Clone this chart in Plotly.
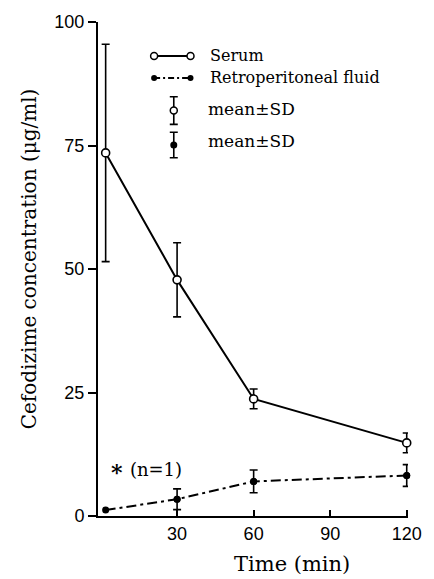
import plotly.graph_objects as go

# ---- data ----
time = [2, 30, 60, 120]
serum_mean = [73.5, 47.8, 23.7, 14.8]
serum_sd = [22.0, 7.5, 2.0, 2.0]
retro_mean = [1.2, 3.4, 7.0, 8.2]
retro_sd_time = [30, 60, 120]
retro_sd_mean = [3.4, 7.0, 8.2]
retro_sd = [2.1, 2.3, 2.2]
x_ticks = [30, 60, 90, 120]
y_ticks = [0, 25, 50, 75, 100]

SERIF = "DejaVu Serif"
SANS = "Liberation Sans"
BLACK = "black"

fig = go.Figure()

# serum
fig.add_trace(go.Scatter(
    x=time, y=serum_mean, mode="lines+markers",
    line=dict(color=BLACK, width=2),
    marker=dict(symbol="circle", size=8, color="white", line=dict(color=BLACK, width=1.6)),
    error_y=dict(type="data", array=serum_sd, visible=True, color=BLACK, thickness=1.6, width=4),
    showlegend=False, cliponaxis=False,
))
# retroperitoneal
fig.add_trace(go.Scatter(
    x=time, y=retro_mean, mode="lines+markers",
    line=dict(color=BLACK, width=2, dash="10px,4px,3px,4px"),
    marker=dict(symbol="circle", size=7, color=BLACK),
    showlegend=False, cliponaxis=False,
))
fig.add_trace(go.Scatter(
    x=retro_sd_time, y=retro_sd_mean, mode="markers",
    marker=dict(symbol="circle", size=7, color=BLACK),
    error_y=dict(type="data", array=retro_sd, visible=True, color=BLACK, thickness=1.6, width=4),
    showlegend=False, cliponaxis=False,
))

# ---- custom legend on an overlay pixel axis ----
L, R, T, B = 98, 413, 14, 516
lx = [155, 192]
fig.add_trace(go.Scatter(x=lx, y=[48.5, 48.5], xaxis="x2", yaxis="y2", mode="lines+markers",
                         line=dict(color=BLACK, width=2),
                         marker=dict(symbol="circle", size=7, color="white", line=dict(color=BLACK, width=1.5)),
                         showlegend=False, hoverinfo="skip"))
fig.add_trace(go.Scatter(x=lx, y=[71, 71], xaxis="x2", yaxis="y2", mode="lines+markers",
                         line=dict(color=BLACK, width=2, dash="6px,3px,2px,3px"),
                         marker=dict(symbol="circle", size=6, color=BLACK),
                         showlegend=False, hoverinfo="skip"))
fig.add_trace(go.Scatter(x=[175], y=[104], xaxis="x2", yaxis="y2", mode="markers",
                         marker=dict(symbol="circle", size=7, color="white", line=dict(color=BLACK, width=1.5)),
                         error_y=dict(type="data", symmetric=False, array=[14], arrayminus=[14], color=BLACK, thickness=1.6, width=4),
                         showlegend=False, hoverinfo="skip"))
fig.add_trace(go.Scatter(x=[175], y=[139], xaxis="x2", yaxis="y2", mode="markers",
                         marker=dict(symbol="circle", size=7, color=BLACK),
                         error_y=dict(type="data", symmetric=False, array=[13], arrayminus=[13], color=BLACK, thickness=1.6, width=4),
                         showlegend=False, hoverinfo="skip"))

legend_texts = [("Serum", 210, 48, 16), ("Retroperitoneal fluid", 210, 70, 16),
                ("mean±SD", 208, 102, 17), ("mean±SD", 208, 135, 17)]
for txt, x, y, sz in legend_texts:
    fig.add_annotation(x=x, y=y, xref="x2", yref="y2", text=txt, showarrow=False,
                       xanchor="left", yanchor="middle",
                       font=dict(family=SERIF, size=sz, color=BLACK))

# n=1 note
fig.add_annotation(x=2.6, y=9.8, xref="x", yref="y",
                   text="<span style='font-size:22px'><b>∗</b></span> (n=1)", showarrow=False,
                   xanchor="left", yanchor="middle", font=dict(family=SERIF, size=18, color=BLACK))

# axis titles (paper coordinates)
W = R - L
H = B - T
fig.add_annotation(x=(28 - L) / W, y=(B - 255) / H, xref="paper", yref="paper",
                   text="Cefodizime concentration (μg/ml)",
                   showarrow=False, textangle=-90, xanchor="center", yanchor="middle",
                   font=dict(family=SERIF, size=20, color=BLACK))
fig.add_annotation(x=(295 - L) / W, y=(B - 565) / H, xref="paper", yref="paper", text="Time (min)",
                   showarrow=False, xanchor="center", yanchor="middle",
                   font=dict(family=SERIF, size=21, color=BLACK))

fig.update_layout(
    width=434, height=579,
    margin=dict(l=L, r=434 - R, t=T, b=579 - B),
    paper_bgcolor="white", plot_bgcolor="white",
    xaxis=dict(range=[-1, 120.5], tickvals=x_ticks, ticks="inside", ticklen=6, tickwidth=1.5,
               showline=True, linecolor=BLACK, linewidth=2, showgrid=False, zeroline=False,
               tickfont=dict(family=SANS, size=18, color=BLACK), tickcolor=BLACK),
    yaxis=dict(range=[0, 100], tickvals=y_ticks, ticks="outside", ticklen=8, tickwidth=1.5,
               showline=True, linecolor=BLACK, linewidth=2, showgrid=False, zeroline=False,
               tickfont=dict(family=SANS, size=18, color=BLACK), tickcolor=BLACK),
    xaxis2=dict(range=[L, R], overlaying="x", visible=False, fixedrange=True),
    yaxis2=dict(range=[B, T], overlaying="y", visible=False, fixedrange=True),
)

fig.write_html("out.html")
